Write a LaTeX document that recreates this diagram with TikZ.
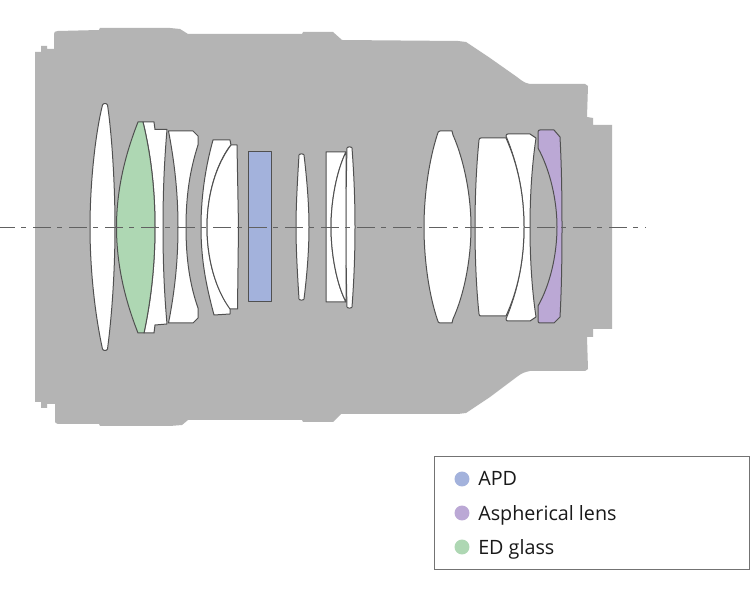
\documentclass[tikz,border=0pt]{standalone}
\usepackage{fontspec}
\setmainfont{Open Sans}
\definecolor{bodygrey}{HTML}{B4B4B4}
\definecolor{apdblue}{HTML}{A3B2DC}
\definecolor{asphpurple}{HTML}{BBA8D5}
\definecolor{edgreen}{HTML}{AED7B3}
\definecolor{edgeline}{HTML}{505050}
\tikzset{
  lens/.style={draw=edgeline,line width=0.75pt,line join=round,fill=#1},
  lens/.default=white,
  axisline/.style={draw=edgeline!90,line width=0.7pt,dash pattern=on 13.5pt off 4.5pt on 3.75pt off 5.25pt},
  legdot/.style={circle,inner sep=0pt,minimum size=11.2pt,fill=#1},
  legtext/.style={anchor=base west,inner sep=0pt,font=\fontsize{14.8pt}{17pt}\selectfont,text=black!90}
}
\begin{document}
\begin{tikzpicture}[x=0.75pt,y=-0.75pt]
\useasboundingbox (0,0) rectangle (750,591);
\fill[white] (0,0) rectangle (750,591);
% barrel
\fill[bodygrey] (35,52) -- (41,52) -- (41,46) -- (47,46) -- (47,49) -- (54,49) -- (54,34)
  .. controls (54,32) and (55,31) .. (58,31) -- (99,30) -- (100,28) -- (170,28) -- (180,29) -- (188,34)
  -- (302,34) -- (303,32) -- (333,32) -- (342,40) -- (458,41) -- (466,42) -- (490,58) -- (517,77)
  .. controls (521,80) and (524,83) .. (530,84) -- (585,84) -- (588,86) -- (587,117) -- (593,118) -- (593,125) -- (612,125)
  -- (612,329) -- (593,329) -- (593,337) -- (587,337) -- (588,369) -- (585,371) -- (530,371)
  .. controls (525,372) and (522,373) .. (518,376) -- (490,397) -- (466,413) -- (458,414) -- (341,414) -- (333,422) -- (303,422)
  -- (302,420) -- (188,420) -- (182,425) -- (170,426) -- (100,426) -- (99,424) -- (58,424)
  .. controls (55,424) and (55,422) .. (55,420) -- (55,404) -- (47,404) -- (47,408) -- (41,408) -- (41,402) -- (35,402) -- cycle;
% L1
\path[lens] (102.5,105) .. controls (103,103) and (107,103) .. (107.5,105)
  .. controls (112,135) and (115,185) .. (115,227) .. controls (115,270) and (112,315) .. (107.5,349)
  .. controls (107,351) and (103,351) .. (102.5,349)
  .. controls (95,315) and (90,270) .. (90,227) .. controls (90,185) and (95,135) .. (102.5,105) -- cycle;
% L3 cemented partner
\path[lens] (143,122) -- (154,122) -- (155,129.5) -- (167,129.5)
  .. controls (164,165) and (163,195) .. (163,227) .. controls (163,260) and (164,290) .. (167,324)
  -- (155,325) -- (154,333) -- (144,333)
  .. controls (151,300) and (155,265) .. (155,227) .. controls (155,190) and (151,155) .. (143,122) -- cycle;
% L2 ED
\path[lens=edgreen] (138,122) -- (143,122) .. controls (151,155) and (155,190) .. (155,227)
  .. controls (155,265) and (151,300) .. (144,333) -- (138,333)
  .. controls (125,300) and (116.5,265) .. (116.5,227) .. controls (116.5,190) and (125,155) .. (138,122) -- cycle;
% L4
\path[lens] (168.5,131) -- (193,131) -- (198,136) -- (198,145)
  .. controls (190,170) and (186,195) .. (186,227) .. controls (186,260) and (190,285) .. (198,308)
  -- (198,318) -- (193,323) -- (168.5,323)
  .. controls (175,290) and (178,260) .. (178,227) .. controls (178,195) and (175,165) .. (168.5,131) -- cycle;
% L5 outer
\path[lens] (213,140) -- (230,140) -- (231,145) -- (230,146) .. controls (216,165) and (207,195) .. (207,227)
  .. controls (207,260) and (216,290) .. (230,308) -- (230,314) -- (214,315)
  .. controls (206,285) and (201,260) .. (201,227) .. controls (201,195) and (206,165) .. (213,140) -- cycle;
% L5 inner
\path[lens] (231,145) -- (237,145) -- (238.5,227) -- (237.5,309) -- (230,309)
  .. controls (216,290) and (207,260) .. (207,227) .. controls (207,195) and (216,165) .. (231,145) -- cycle;
% APD
\path[lens=apdblue] (248,152) rectangle (271,302);
% L7
\path[lens] (299,155) .. controls (299.5,153.5) and (303.5,153.5) .. (304,155)
  .. controls (307,180) and (309,205) .. (309,227) .. controls (309,250) and (307,275) .. (304,299)
  .. controls (303.5,300.5) and (299.5,300.5) .. (299,299)
  .. controls (297.5,275) and (296,250) .. (296,227) .. controls (296,205) and (297.5,180) .. (299,155) -- cycle;
% L8
\path[lens] (326,152) -- (346,152) .. controls (337,170) and (331,200) .. (331,227)
  .. controls (331,255) and (337,285) .. (346,302) -- (326,302) -- cycle;
\path[lens] (346,152) .. controls (337,170) and (331,200) .. (331,227)
  .. controls (331,255) and (337,285) .. (346,302) -- (346.5,227) -- cycle;
% L9
\path[lens] (347,148) .. controls (347.5,146.5) and (351.5,146.5) .. (352,148)
  .. controls (354,175) and (355,200) .. (355,227) .. controls (355,255) and (354,280) .. (352,307)
  .. controls (351.5,308.5) and (347.5,308.5) .. (347,307)
  .. controls (346.3,280) and (346,255) .. (346,227) .. controls (346,200) and (346.3,175) .. (347,148) -- cycle;
% L10
\path[lens] (437.5,134) .. controls (438,132) and (438.5,131) .. (440,131) -- (452,131) -- (453,135)
  .. controls (464,160) and (471,195) .. (471,227) .. controls (471,260) and (464,295) .. (453,319) -- (452,323) -- (440,323)
  .. controls (438.5,323) and (438,322) .. (437.5,320)
  .. controls (429,295) and (424,260) .. (424,227) .. controls (424,195) and (429,160) .. (437.5,134) -- cycle;
% L12
\path[lens] (506,136) .. controls (506,134.5) and (507,134) .. (508,134) -- (530,134) -- (536,138)
  .. controls (532,165) and (530,195) .. (530,227) .. controls (530,260) and (532,290) .. (536,317)
  -- (530,321) -- (508,321) .. controls (507,321) and (506,320.5) .. (506,319)
  .. controls (518,290) and (524,260) .. (524,227) .. controls (524,195) and (518,165) .. (506,136) -- cycle;
% L11
\path[lens] (479,140) .. controls (479,138.5) and (480,138) .. (481,138) -- (506,138)
  .. controls (518,165) and (524,195) .. (524,227) .. controls (524,260) and (518,290) .. (506,316) -- (481,316)
  .. controls (480,316) and (479,315.5) .. (479,314) .. controls (476.5,290) and (475,260) .. (475,227)
  .. controls (475,195) and (476.5,165) .. (479,140) -- cycle;
% L13 aspherical
\path[lens=asphpurple] (538,132) .. controls (538,130.5) and (539,130) .. (540,130) -- (554,130) -- (560,137)
  .. controls (561.5,165) and (562,195) .. (562,227) .. controls (562,260) and (561.5,290) .. (560,317)
  -- (554,323) -- (540,323) .. controls (539,323) and (538,322.5) .. (538,321) -- (538,306)
  .. controls (550,285) and (557,255) .. (557,227) .. controls (557,200) and (550,170) .. (538,148) -- cycle;
% optical axis
\coordinate (axisL) at (-3,227);
\coordinate (axisR) at (646,227);
\draw[axisline] (axisL) -- (axisR);
% legend
\node[draw=black!55,line width=0.8pt,fill=white,inner sep=0pt,anchor=north west,minimum width=236.25pt,minimum height=84.75pt] (legend) at (434,456) {};
\node[legdot=apdblue] (dotA) at (462,479) {};
\node[legdot=asphpurple] (dotB) at (462,513) {};
\node[legdot=edgreen] (dotC) at (462,547) {};
\node[legtext] (txtA) at (478,486) {APD};
\node[legtext] (txtB) at (478,520) {Aspherical lens};
\node[legtext] (txtC) at (478,554) {ED glass};
\end{tikzpicture}
\end{document}
